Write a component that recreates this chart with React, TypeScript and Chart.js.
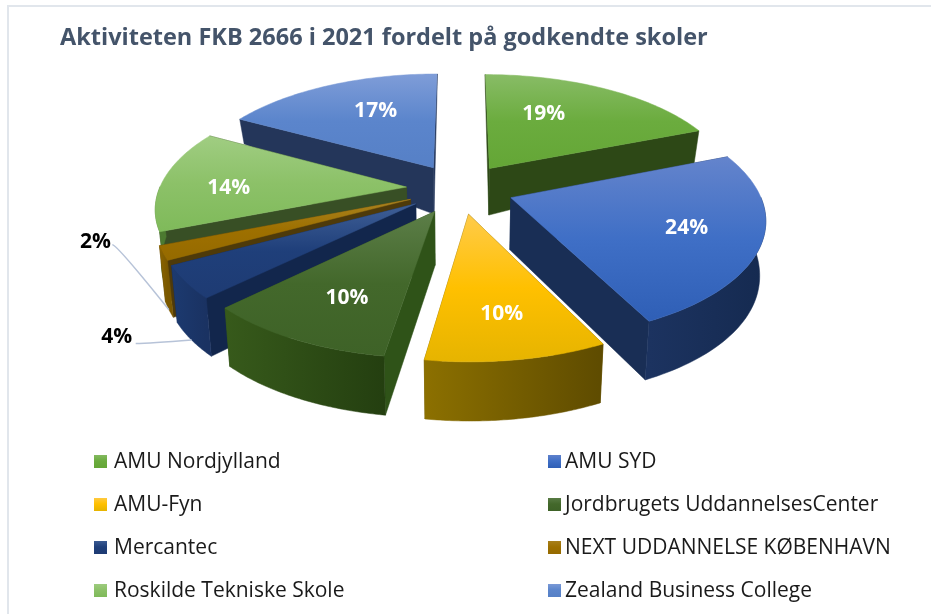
import React, { useEffect, useRef } from "react";
import { Chart, registerables } from "chart.js";

Chart.register(...registerables);

const titleText = "Aktiviteten FKB 2666 i 2021 fordelt på godkendte skoler";
const categories = [
  "AMU Nordjylland",
  "AMU SYD",
  "AMU-Fyn",
  "Jordbrugets UddannelsesCenter",
  "Mercantec",
  "NEXT UDDANNELSE KØBENHAVN",
  "Roskilde Tekniske Skole",
  "Zealand Business College",
];
const shares = [19, 23.7, 9.7, 10.3, 4.4, 1.9, 14, 17];

const topLight = ["#88BC66", "#6484CC", "#FFCB4A", "#5C7E48", "#3F5F96", "#A98220", "#A0CD82", "#7F9DD8"];
const topBase = ["#6BAC3E", "#3F6FC6", "#FFC000", "#43682B", "#1F3F7A", "#9E7000", "#8CC168", "#5B85CC"];
const topDark = ["#64A636", "#2F5FB6", "#E6B400", "#3E6227", "#1E3B73", "#956A00", "#7FBA5A", "#5680C6"];
const wallColor = ["#2D4816", "#192E55", "#6A5500", "#2F5318", "#12264C", "#4E3A0A", "#384F25", "#24365A"];
const rimLight = ["#2D4816", "#1C3360", "#8C7000", "#375A1B", "#1C3A70", "#8C6500", "#5C8A3C", "#24365A"];
const rimDark = ["#2D4816", "#152A50", "#5E4B00", "#243F10", "#1A3262", "#7A5800", "#4C7A30", "#24365A"];

const labelFrac = [0.6, 0.71, 0.72, 0.7, 1.355, 1.225, 0.72, 0.63];
const labelTurn = [-9, -1, 0, -2, -7.5, 9, -4, 5];
const labelColor = ["#fff", "#fff", "#fff", "#fff", "#000", "#000", "#fff", "#fff"];
const leaderStart = [null, null, null, null, [19, 7], [17, 3], null, null];
const leaderBend = [0, 0, 0, 0, 0.25, 0.08, 0, 0];

const PROJ_R = 247;
const SQUASH = 0.465;
const PERSPECTIVE = 0.16;
const BOTTOM_SHRINK = 0.02;
const LEGEND_ROWS = [461, 504, 547, 590];
const LEGEND_SWATCH_X = [94, 548];
const LEGEND_TEXT_X = [114, 565];
const FONT = "'Open Sans', sans-serif";

const wallDepth = (v: number) => Math.max(0, 60 - 9.4 * Math.exp(-0.008 * v));

const pie3d = {
  id: "pie3d",
  beforeDraw(chart: any) {
    const { ctx } = chart;
    ctx.save();
    ctx.fillStyle = "#fff";
    ctx.fillRect(0, 0, chart.width, chart.height);
    ctx.strokeStyle = "#E1E6EC";
    ctx.lineWidth = 2;
    ctx.beginPath();
    ctx.moveTo(8, chart.height);
    ctx.lineTo(8, 6);
    ctx.lineTo(chart.width, 6);
    ctx.stroke();
    ctx.restore();
  },
  beforeDatasetDraw(chart: any) {
    const { ctx } = chart;
    const arcs: any[] = chart.getDatasetMeta(0).data;

    const geo = arcs.map((arc) => {
      const scale = PROJ_R / arc.outerRadius;
      const mid = (arc.startAngle + arc.endAngle) / 2;
      const e = arc.options.offset * scale;
      return { arc, mid, ox: Math.cos(mid) * e, oy: Math.sin(mid) * e };
    });

    const project = (g: any, angle: number, r: number, z: number) => {
      const u = g.ox + Math.cos(angle) * r;
      const v = g.oy + Math.sin(angle) * r;
      const f = 1 / (1 - (PERSPECTIVE * v) / PROJ_R);
      return [
        g.arc.x + u * f * (1 - z * BOTTOM_SHRINK),
        g.arc.y + v * SQUASH * f + z * wallDepth(v),
      ];
    };

    const fillPoly = (pts: number[][], style: any) => {
      ctx.beginPath();
      pts.forEach((p, i) => (i ? ctx.lineTo(p[0], p[1]) : ctx.moveTo(p[0], p[1])));
      ctx.closePath();
      ctx.fillStyle = style;
      ctx.strokeStyle = style;
      ctx.lineWidth = 0.5;
      ctx.fill();
      ctx.stroke();
    };

    const order = geo.map((_, i) => i).sort((a, b) => Math.sin(geo[a].mid) - Math.sin(geo[b].mid));

    order.forEach((i) => {
      const g = geo[i];
      const { startAngle: a0, endAngle: a1 } = g.arc;
      const wall = (a: number) => [
        project(g, a, 0, 0),
        project(g, a, PROJ_R, 0),
        project(g, a, PROJ_R, 1),
        project(g, a, 0, 1),
      ];
      const walls = [
        { a: a0, n: -Math.cos(a0) },
        { a: a1, n: Math.cos(a1) },
      ].sort((p, q) => p.n - q.n);
      walls.forEach((w) => fillPoly(wall(w.a), wallColor[i]));

      const steps = 60;
      const front: number[] = [];
      for (let s = 0; s <= steps; s++) {
        const a = a0 + ((a1 - a0) * s) / steps;
        if (Math.sin(a) > -0.01) front.push(a);
      }
      if (front.length > 1) {
        const upper = front.map((a) => project(g, a, PROJ_R, 0));
        const lower = front.map((a) => project(g, a, PROJ_R, 1)).reverse();
        const xs = upper.map((p) => p[0]);
        const grad = ctx.createLinearGradient(Math.min(...xs), 0, Math.max(...xs), 0);
        grad.addColorStop(0, rimLight[i]);
        grad.addColorStop(1, rimDark[i]);
        fillPoly([...upper, ...lower], grad);
      }

      const top: number[][] = [project(g, a0, 0, 0)];
      for (let s = 0; s <= steps; s++) {
        top.push(project(g, a0 + ((a1 - a0) * s) / steps, PROJ_R, 0));
      }
      const ys = top.map((p) => p[1]);
      const grad = ctx.createLinearGradient(0, Math.min(...ys), 0, Math.max(...ys));
      grad.addColorStop(0, topLight[i]);
      grad.addColorStop(0.5, topBase[i]);
      grad.addColorStop(1, topDark[i]);
      fillPoly(top, grad);
    });

    geo.forEach((g, i) => {
      const turn = (labelTurn[i] * Math.PI) / 180;
      const pos = project(g, g.mid + turn, labelFrac[i] * PROJ_R, 0);
      const start = leaderStart[i];
      if (start) {
        const end = project(g, g.mid, PROJ_R, 1);
        const sx = pos[0] + start[0];
        const sy = pos[1] + start[1];
        ctx.beginPath();
        ctx.moveTo(sx, sy);
        ctx.quadraticCurveTo(sx + (end[0] - sx) * leaderBend[i], sy, end[0], end[1]);
        ctx.strokeStyle = "#B7C3D8";
        ctx.lineWidth = 1.5;
        ctx.stroke();
      }
      ctx.font = `bold 21px ${FONT}`;
      ctx.fillStyle = labelColor[i];
      ctx.textAlign = "center";
      ctx.textBaseline = "middle";
      ctx.fillText(`${Math.round(shares[i])}%`, pos[0], pos[1]);
    });

    return false;
  },
  afterDraw(chart: any) {
    const { ctx } = chart;
    ctx.save();
    categories.forEach((name, i) => {
      const y = LEGEND_ROWS[Math.floor(i / 2)];
      const grad = ctx.createLinearGradient(0, y - 7, 0, y + 7);
      grad.addColorStop(0, topLight[i]);
      grad.addColorStop(0.5, topBase[i]);
      grad.addColorStop(1, topDark[i]);
      ctx.fillStyle = grad;
      ctx.fillRect(LEGEND_SWATCH_X[i % 2], y - 6, 13, 13);
      ctx.font = `21px ${FONT}`;
      ctx.fillStyle = "#1a1a1a";
      ctx.textAlign = "left";
      ctx.textBaseline = "middle";
      ctx.fillText(name, LEGEND_TEXT_X[i % 2], y + 1);
    });
    ctx.restore();
  },
};

export default function App() {
  const ref = useRef<HTMLCanvasElement>(null);
  useEffect(() => {
    const chart = new Chart(ref.current!, {
      type: "pie",
      data: {
        labels: categories,
        datasets: [{ data: shares, offset: 26, backgroundColor: topBase, borderWidth: 0 }],
      },
      options: {
        animation: false,
        responsive: false,
        layout: { padding: { left: 60, right: 71, top: 24, bottom: 293 } },
        plugins: {
          legend: { display: false },
          tooltip: { enabled: false },
          title: {
            display: true,
            text: titleText,
            align: "start",
            color: "#44546A",
            font: { family: FONT, size: 23.5, weight: "bold" },
            padding: { top: 0, bottom: 4 },
          },
        },
      },
      plugins: [pie3d],
    } as any);
    return () => chart.destroy();
  }, []);
  return (
    <canvas
      ref={ref}
      width={931}
      height={614}
      style={{ position: "absolute", left: 0, top: 0, width: 931, height: 614, display: "block" }}
    />
  );
}
